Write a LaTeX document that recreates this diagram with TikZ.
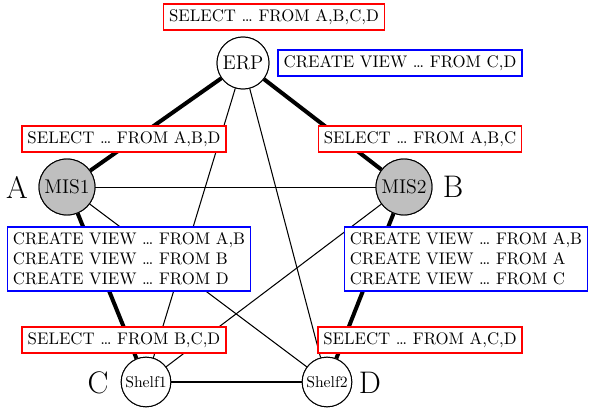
\documentclass[tikz,border=0pt]{standalone}
\begin{document}
\begin{tikzpicture}[x=0.625pt,y=-0.625pt,
  sys/.style={circle,draw,inner sep=0pt,line width=0.6pt},
  big/.style={sys,minimum size=35pt,fill=gray!50,font=\fontsize{12.4}{14}\selectfont},
  top/.style={sys,minimum size=32.5pt,fill=white,font=\fontsize{12.4}{14}\selectfont},
  shelf/.style={sys,minimum size=31pt,fill=white,font=\fontsize{9.8}{12}\selectfont},
  tag/.style={font=\fontsize{19.5}{23}\selectfont},
  boxtext/.style={font=\fontsize{10.5}{12.6}\selectfont,inner sep=3.4pt,fill=white,line width=1pt},
  sel/.style={boxtext,draw=red},
  view/.style={boxtext,draw=blue,align=left},
  heavy/.style={line width=2.5pt},
  light/.style={line width=0.65pt}]
\useasboundingbox (0,0) rectangle (589,410);

% systems
\node[top]   (erp)    at (243,63)  {ERP};
\node[big]   (mis1)   at (67,187)  {MIS1};
\node[big]   (mis2)   at (404,187) {MIS2};
\node[shelf] (shelf1) at (146,382) {Shelf1};
\node[shelf] (shelf2) at (327,382) {Shelf2};

% site letters
\node[tag] (la) at (17,187)  {A};
\node[tag] (lb) at (453,187) {B};
\node[tag] (lc) at (98,383)  {C};
\node[tag] (ld) at (370,383) {D};

% connections
\draw[heavy] (erp) -- (mis1);
\draw[heavy] (erp) -- (mis2);
\draw[heavy] (mis1) -- (shelf1);
\draw[heavy] (mis2) -- (shelf2);
\draw[light,line width=0.5pt] (mis1) -- (mis2);
\draw[light] (erp) -- (shelf1);
\draw[light] (erp) -- (shelf2);
\draw[light] (mis1) -- (shelf2);
\draw[light] (mis2) -- (shelf1);
\draw[light] (shelf1) -- (shelf2);

% redraw circles above the line ends
\node[top]   at (erp)    {ERP};
\node[big]   at (mis1)   {MIS1};
\node[big]   at (mis2)   {MIS2};
\node[shelf] at (shelf1) {Shelf1};
\node[shelf] at (shelf2) {Shelf2};

% queries
\node[sel]  (qerp)  at (274,17)  {SELECT \dots{} FROM A,B,C,D};
\node[view] (verp)  at (400,63)  {CREATE VIEW \dots{} FROM C,D};
\node[sel]  (qmis1) at (124,139) {SELECT \dots{} FROM A,B,D};
\node[sel]  (qmis2) at (420,139) {SELECT \dots{} FROM A,B,C};
\node[view] (vleft) at (129,259) {CREATE VIEW \dots{} FROM A,B\\CREATE VIEW \dots{} FROM B\\CREATE VIEW \dots{} FROM D};
\node[view] (vright) at (466,259) {CREATE VIEW \dots{} FROM A,B\\CREATE VIEW \dots{} FROM A\\CREATE VIEW \dots{} FROM C};
\node[sel]  (qs1)   at (124,340) {SELECT \dots{} FROM B,C,D};
\node[sel]  (qs2)   at (420,340) {SELECT \dots{} FROM A,C,D};
\end{tikzpicture}
\end{document}
